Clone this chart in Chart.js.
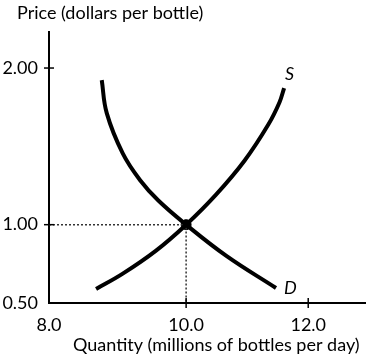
<!DOCTYPE html>
<html>
<head>
<meta charset="utf-8">
<script src="https://cdn.jsdelivr.net/npm/chart.js@4"></script>
<style>
  body { margin: 0; background: #fff; }
</style>
</head>
<body>
<canvas id="supplyDemand" width="374" height="360"></canvas>
<script>
// Data for supply and demand curves (quantity, price)
const supply_qty   = [8.525, 8.956, 9.502, 10.0, 10.490, 10.959, 11.349, 11.530, 11.605];
const supply_price = [0.590, 0.686, 0.833, 1.0, 1.192, 1.410, 1.641, 1.782, 1.872];

const demand_qty   = [8.618, 8.700, 8.962, 9.250, 9.545, 10.0, 10.659, 11.472];
const demand_price = [1.923, 1.712, 1.455, 1.282, 1.154, 1.0, 0.801, 0.596];

const eq_qty = 10.0;
const eq_price = 1.0;

// axis ticks (first x tick sits on the origin of the figure)
const x_min = 7.754;
const x_max = 12.93;
const x_ticks = [7.754, 10.0, 12.0];
const x_tick_labels = ['8.0', '10.0', '12.0'];
const y_min = 0.5;
const y_max = 2.23;
const y_ticks = [0.5, 1.0, 2.0];
const y_tick_labels = ['0.50', '1.00', '2.00'];

const FONT = 'Lato, "Open Sans", sans-serif';

const toPoints = (xs, ys) => xs.map((x, i) => ({ x: x, y: ys[i] }));

const data = {
    datasets: [
        {
            label: 'S',
            data: toPoints(supply_qty, supply_price),
            borderColor: '#000',
            borderWidth: 4,
            pointRadius: 0,
            showLine: true,
            tension: 0.4
        },
        {
            label: 'D',
            data: toPoints(demand_qty, demand_price),
            borderColor: '#000',
            borderWidth: 4,
            pointRadius: 0,
            showLine: true,
            tension: 0.4
        },
        {
            label: 'guide',
            data: [{ x: x_min, y: eq_price }, { x: eq_qty, y: eq_price }, { x: eq_qty, y: y_min }],
            borderColor: '#333',
            borderWidth: 1.5,
            borderDash: [2, 2],
            pointRadius: 0,
            showLine: true
        },
        {
            label: 'equilibrium',
            data: [{ x: eq_qty, y: eq_price }],
            backgroundColor: '#000',
            borderColor: '#000',
            pointRadius: 5,
            showLine: false
        }
    ]
};

// crossing tick marks, curve labels and axis titles
const decorations = {
    id: 'decorations',
    afterDraw(chart) {
        const ctx = chart.ctx;
        const xs = chart.scales.x;
        const ys = chart.scales.y;
        const area = chart.chartArea;
        ctx.save();
        ctx.strokeStyle = '#000';
        ctx.lineWidth = 1.5;
        y_ticks.forEach(v => {
            if (v === y_min) return;
            const py = ys.getPixelForValue(v);
            ctx.beginPath();
            ctx.moveTo(area.left - 5, py);
            ctx.lineTo(area.left + 5, py);
            ctx.stroke();
        });
        x_ticks.forEach((v, i) => {
            if (i === 0) return;
            const px = xs.getPixelForValue(v);
            ctx.beginPath();
            ctx.moveTo(px, area.bottom - 5);
            ctx.lineTo(px, area.bottom + 5);
            ctx.stroke();
        });

        ctx.fillStyle = '#000';
        ctx.font = 'italic 18px ' + FONT;
        ctx.textBaseline = 'middle';
        ctx.textAlign = 'left';
        const sEnd = chart.getDatasetMeta(0).data[supply_qty.length - 1];
        ctx.fillText('S', sEnd.x + 1, sEnd.y - 14);
        const dEnd = chart.getDatasetMeta(1).data[demand_qty.length - 1];
        ctx.fillText('D', dEnd.x + 8, dEnd.y);

        ctx.font = '18px ' + FONT;
        ctx.fillText('Price (dollars per bottle)', 17, 13);
        ctx.fillText('Quantity (millions of bottles per day)', 73, 345);
        ctx.restore();
    }
};

const config_chart = {
    type: 'scatter',
    data: data,
    options: {
        responsive: false,
        animation: false,
        layout: { padding: { top: 32, right: 9, left: 0, bottom: 0 } },
        plugins: {
            legend: { display: false },
            tooltip: { enabled: false }
        },
        scales: {
            x: {
                type: 'linear',
                min: x_min,
                max: x_max,
                afterBuildTicks: scale => { scale.ticks = x_ticks.map(v => ({ value: v })); },
                afterFit: scale => { scale.height = 57; },
                grid: { display: false, drawTicks: false },
                border: { display: true, color: '#000', width: 2 },
                ticks: {
                    color: '#000',
                    padding: 11,
                    font: { family: FONT, size: 18 },
                    callback: (v, i) => x_tick_labels[i]
                }
            },
            y: {
                type: 'linear',
                min: y_min,
                max: y_max,
                afterBuildTicks: scale => { scale.ticks = y_ticks.map(v => ({ value: v })); },
                afterFit: scale => { scale.width = 49; },
                grid: { display: false, drawTicks: false },
                border: { display: true, color: '#000', width: 2 },
                ticks: {
                    color: '#000',
                    padding: 11,
                    font: { family: FONT, size: 18 },
                    callback: (v, i) => y_tick_labels[i]
                }
            }
        }
    },
    plugins: [decorations]
};

const supplyDemandChart = new Chart(document.getElementById('supplyDemand'), config_chart);
</script>
</body>
</html>
